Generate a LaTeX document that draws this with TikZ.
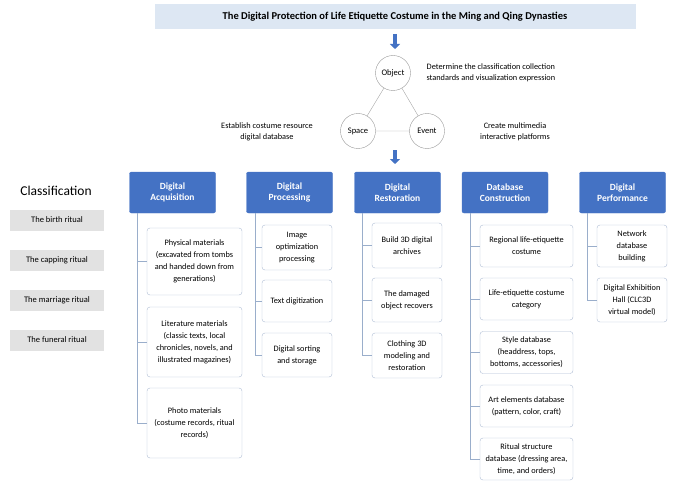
\documentclass[tikz,border=0pt]{standalone}
\usepackage{fontspec}
\setmainfont{Carlito}
\usetikzlibrary{arrows.meta}
\definecolor{hdblue}{HTML}{4472C4}
\definecolor{titlefill}{HTML}{DDE7F3}
\definecolor{itemline}{HTML}{AEBCD4}
\definecolor{treeline}{HTML}{9AAECB}
\definecolor{clsgrey}{HTML}{E2E2E2}
\begin{document}
\begin{tikzpicture}[x=1pt,y=-1pt,
  head/.style={fill=hdblue,draw=hdblue,rounded corners=2pt,text=white,align=center,
    font=\fontsize{9.5}{11.5}\selectfont\bfseries,minimum width=86pt,minimum height=41pt},
  item/.style={draw=itemline,fill=white,rounded corners=3pt,align=center,inner sep=1pt,
    font=\fontsize{8.3}{12}\selectfont},
  cls/.style={fill=clsgrey,align=center,minimum width=94pt,minimum height=21pt,
    font=\fontsize{8.5}{10}\selectfont},
  ring/.style={circle,draw=gray!80,fill=white,minimum size=35pt,inner sep=0pt,
    font=\fontsize{8.5}{10}\selectfont},
  note/.style={align=center,font=\fontsize{8.3}{11}\selectfont},
  tree/.style={draw=treeline,thin},
  bigarrow/.style={draw=hdblue,line width=3.5pt,-{Triangle[length=5pt,width=10pt]}}]
\useasboundingbox (0,0) rectangle (677,484);
% title
\node[fill=titlefill,minimum width=481pt,minimum height=25pt,
  font=\fontsize{10.5}{12}\selectfont\bfseries] (title) at (395,17)
  {The Digital Protection of Life Etiquette Costume in the Ming and Qing Dynasties};
% object / space / event
\node[ring] (obj) at (393,73) {Object};
\node[ring] (spc) at (358,131) {Space};
\node[ring] (evt) at (427,131) {Event};
\draw[draw=gray!70] (obj) -- (spc) -- (evt) -- (obj);
\coordinate (top) at (395,34);
\coordinate (topend) at (395,49);
\draw[bigarrow] (top) -- (topend);
\coordinate (mid) at (395,150);
\coordinate (midend) at (395,164);
\draw[bigarrow] (mid) -- (midend);
\node[note,anchor=west] (det) at (423,72.5) {Determine the classification collection\\standards and visualization expression};
\node[note] (est) at (267,132) {Establish costume resource\\digital database};
\node[note] (cre) at (515,132) {Create multimedia\\interactive platforms};
% classification
\node[font=\fontsize{13.5}{15}\selectfont] (clshead) at (56,191) {Classification};
\foreach \t [count=\i] in {The birth ritual,The capping ritual,The marriage ritual,The funeral ritual}
  \node[cls] (c\i) at (57,180+40*\i) {\t};
% headers
\node[head] (acq) at (172.5,192.5) {Digital\\Acquisition};
\node[head] (proc) at (289.5,192.5) {Digital\\Processing};
\node[head] (rest) at (397.5,192.5) {Digital\\Restoration};
\node[head] (db) at (505,192.5) {Database\\Construction};
\node[head] (perf) at (622.5,192.5) {Digital\\Performance};
% digital acquisition
\node[item,minimum width=95pt,minimum height=67pt] (a1) at (194.5,261.5) {Physical materials\\(excavated from tombs\\and handed down from\\generations)};
\node[item,minimum width=95pt,minimum height=70pt] (a2) at (194.5,342) {Literature materials\\(classic texts, local\\chronicles, novels, and\\illustrated magazines)};
\node[item,minimum width=95pt,minimum height=70pt] (a3) at (194.5,423) {Photo materials\\(costume records, ritual\\records)};
% digital processing
\node[item,minimum width=70pt,minimum height=45pt] (p1) at (297,247.5) {Image\\optimization\\processing};
\node[item,minimum width=70pt,minimum height=42pt] (p2) at (297,301) {Text digitization};
\node[item,minimum width=70pt,minimum height=44pt] (p3) at (297,355) {Digital sorting\\and storage};
% digital restoration
\node[item,minimum width=70pt,minimum height=45pt] (r1) at (407,245.5) {Build 3D digital\\archives};
\node[item,minimum width=70pt,minimum height=44pt] (r2) at (407,300) {The damaged\\object recovers};
\node[item,minimum width=70pt,minimum height=45pt] (r3) at (407,355.5) {Clothing 3D\\modeling and\\restoration};
% database construction
\node[item,minimum width=93pt,minimum height=42pt] (d1) at (526.5,246) {Regional life-etiquette\\costume};
\node[item,minimum width=93pt,minimum height=42pt] (d2) at (526.5,299) {Life-etiquette costume\\category};
\node[item,minimum width=93pt,minimum height=42pt] (d3) at (526.5,352.5) {Style database\\(headdress, tops,\\bottoms, accessories)};
\node[item,minimum width=93pt,minimum height=42pt] (d4) at (526.5,406) {Art elements database\\(pattern, color, craft)};
\node[item,minimum width=93pt,minimum height=42pt] (d5) at (526.5,459) {Ritual structure\\database (dressing area,\\time, and orders)};
% digital performance
\node[item,minimum width=70pt,minimum height=42pt] (f1) at (632,246) {Network\\database\\building};
\node[item,minimum width=70pt,minimum height=44pt] (f2) at (632,300) {Digital Exhibition\\Hall (CLC3D\\virtual model)};
% trees
\coordinate (acqT) at (137,213);
\coordinate (procT) at (255,213);
\coordinate (restT) at (362,213);
\coordinate (dbT) at (470,213);
\coordinate (perfT) at (587,213);
\draw[tree] (acqT) |- (a3.west);
\foreach \n in {a1,a2} \draw[tree] (acqT |- \n.west) -- (\n.west);
\draw[tree] (procT) |- (p3.west);
\foreach \n in {p1,p2} \draw[tree] (procT |- \n.west) -- (\n.west);
\draw[tree] (restT) |- (r3.west);
\foreach \n in {r1,r2} \draw[tree] (restT |- \n.west) -- (\n.west);
\draw[tree] (dbT) |- (d5.west);
\foreach \n in {d1,d2,d3,d4} \draw[tree] (dbT |- \n.west) -- (\n.west);
\draw[tree] (perfT) |- (f2.west);
\draw[tree] (perfT |- f1.west) -- (f1.west);
\end{tikzpicture}
\end{document}
